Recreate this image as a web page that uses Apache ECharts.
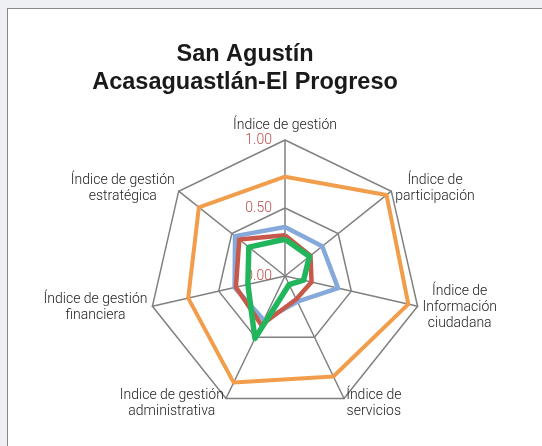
<!DOCTYPE html>
<html>
<head>
<meta charset="utf-8">
<script src="https://cdn.jsdelivr.net/npm/echarts@6/dist/echarts.min.js"></script>
<style>
  html, body { margin: 0; padding: 0; background: #eef0f3; }
  #frame { position: absolute; left: 7px; top: 8px; width: 540px; height: 445px; background: #fff; border-left: 1px solid #8a8a8a; border-top: 1px solid #8a8a8a; }
  #main { position: absolute; left: 0; top: 0; width: 542px; height: 446px; }
</style>
</head>
<body>
<div id="frame"></div>
<div id="main"></div>
<script>
const titleLines = ['San Agustín', 'Acasaguastlán-El Progreso'];
// clockwise from the top
const indicators = [
  ['Índice de gestión'],
  ['Índice de', 'participación'],
  ['Índice de', 'Información', 'ciudadana'],
  ['Índice de', 'servicios'],
  ['Indice de gestión', 'administrativa'],
  ['Índice de gestión', 'financiera'],
  ['Índice de gestión', 'estratégica']
];
const seriesOrange = [0.73, 0.955, 0.93, 0.82, 0.87, 0.73, 0.81];
const seriesBlue = [0.36, 0.35, 0.40, 0.21, 0.36, 0.38, 0.47];
const seriesRed = [0.30, 0.24, 0.20, 0.19, 0.40, 0.37, 0.43];
const seriesGreen = [0.27, 0.23, 0.14, 0.07, 0.51, 0.28, 0.34];
const axisMax = 1;

// echarts radar runs counter-clockwise, so flip everything after the first axis
const order = [0, 6, 5, 4, 3, 2, 1];
const reorder = arr => order.map(i => arr[i]);

const chart = echarts.init(document.getElementById('main'));

const nameStyle = {
  fontFamily: 'Roboto',
  fontWeight: 300,
  fontSize: 14,
  lineHeight: 16,
  color: '#222'
};

const option = {
  animation: false,
  title: {
    text: titleLines.join('\n'),
    left: 240,
    top: 36,
    textAlign: 'center',
    textStyle: {
      fontFamily: 'Liberation Sans',
      fontWeight: 'bold',
      fontSize: 23.5,
      lineHeight: 28,
      color: '#1a1a1a'
    }
  },
  radar: {
    center: [285, 276],
    radius: 136,
    startAngle: 90,
    splitNumber: 2,
    shape: 'polygon',
    nameGap: 5,
    axisName: Object.assign({}, nameStyle, {
      formatter: function (v) {
        return v.split('\n').map(function (l) { return '{c|' + l + '}'; }).join('\n');
      },
      rich: { c: Object.assign({ align: 'center' }, nameStyle) }
    }),
    axisLine: { lineStyle: { color: '#808080', width: 1.5 } },
    splitLine: { lineStyle: { color: '#808080', width: 1.5 } },
    splitArea: { show: false },
    axisTick: { show: false },
    axisLabel: { show: false },
    indicator: reorder(indicators).map(function (lines, i) {
      const ind = { name: lines.join('\n'), min: 0, max: axisMax };
      if (i === 0) {
        ind.axisLabel = {
          show: true,
          margin: 13,
          color: '#b8504a',
          fontFamily: 'Roboto',
          fontWeight: 300,
          fontSize: 14,
          formatter: function (v) { return v.toFixed(2); }
        };
      }
      return ind;
    })
  },
  series: [{
    type: 'radar',
    symbol: 'none',
    data: [
      { value: reorder(seriesOrange), lineStyle: { color: '#f29d4b', width: 4 } },
      { value: reorder(seriesBlue), lineStyle: { color: '#85a9da', width: 4.5 } },
      { value: reorder(seriesRed), lineStyle: { color: '#c8594a', width: 4.5 } },
      { value: reorder(seriesGreen), lineStyle: { color: '#21b55c', width: 5.5 } }
    ]
  }]
};

chart.setOption(option);
</script>
</body>
</html>
